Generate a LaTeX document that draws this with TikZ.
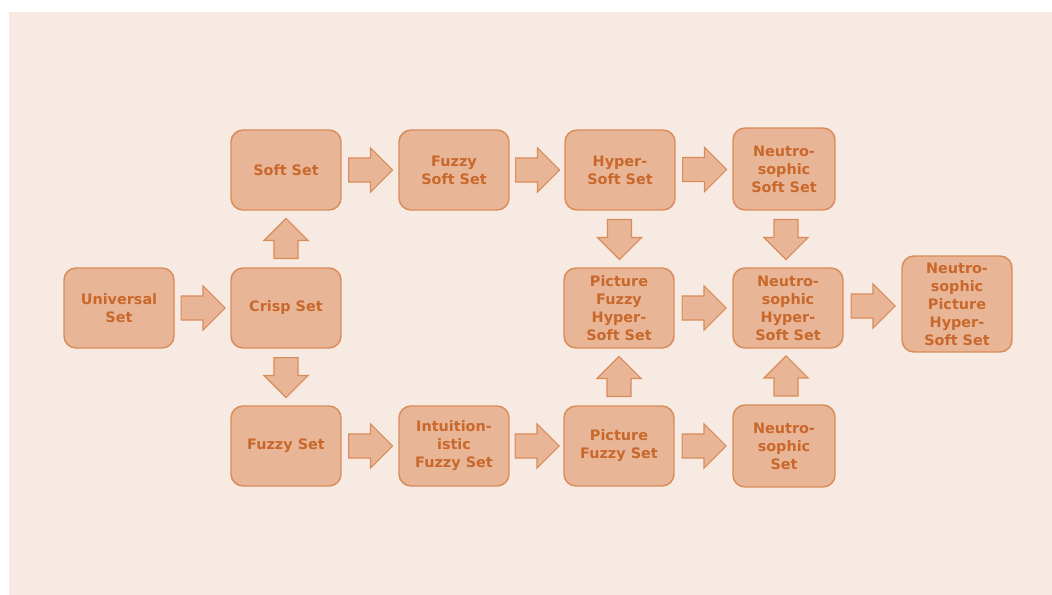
\documentclass[tikz,border=0pt]{standalone}
\usepackage{fontspec}
\setmainfont{DejaVu Sans}
\usetikzlibrary{shapes.arrows,calc}
\definecolor{bgpink}{HTML}{F7EAE2}
\definecolor{boxfill}{HTML}{E8B696}
\definecolor{boxline}{HTML}{D98C5A}
\definecolor{boxtext}{HTML}{C9682C}
\tikzset{
  setbox/.style={draw=boxline, fill=boxfill, line width=1.1pt, rounded corners=9pt,
    minimum width=82.5pt, minimum height=60pt, align=center, text=boxtext,
    font=\fontsize{10.8}{13.5}\selectfont\bfseries, inner sep=1pt},
  barrow/.style={single arrow, draw=boxline, fill=boxfill, line width=0.9pt,
    inner xsep=0pt, inner ysep=8.6pt, minimum height=33pt, minimum width=32pt,
    single arrow head extend=7.5pt, anchor=tail},
  varrow/.style={barrow, minimum height=30pt}
}
\begin{document}
\begin{tikzpicture}[x=0.75pt,y=-0.75pt]
\useasboundingbox (0,0) rectangle (1052,595);
\fill[white] (0,0) rectangle (1052,595);
\fill[bgpink] (9,12) rectangle (1052,595);

\node[setbox] (U) at (119,308) {Universal\\Set};
\node[setbox] (C) at (286,308) {Crisp Set};
\node[setbox] (S) at (286,170) {Soft Set};
\node[setbox] (F) at (286,446) {Fuzzy Set};
\node[setbox] (FS) at (454,170) {Fuzzy\\Soft Set};
\node[setbox] (IF) at (454,446) {Intuition-\\istic\\Fuzzy Set};
\node[setbox] (HS) at (620,170) {Hyper-\\Soft Set};
\node[setbox] (PFH) at (619,308) {Picture\\Fuzzy\\Hyper-\\Soft Set};
\node[setbox] (PF) at (619,446) {Picture\\Fuzzy Set};
\node[setbox, minimum width=76.5pt, minimum height=61.5pt] (NS) at (784,169) {Neutro-\\sophic\\Soft Set};
\node[setbox] (NH) at (788,308) {Neutro-\\sophic\\Hyper-\\Soft Set};
\node[setbox, minimum width=76.5pt, minimum height=61.5pt] (N) at (784,446) {Neutro-\\sophic\\Set};
\node[setbox, minimum height=72pt] (NP) at (957,304) {Neutro-\\sophic\\Picture\\Hyper-\\Soft Set};

% horizontal block arrows
\node[barrow] at ($(U.east)!.5!(C.west)+(-22,0)$) {};
\node[barrow] at ($(S.east)!.5!(FS.west)+(-22,0)$) {};
\node[barrow] at ($(FS.east)!.5!(HS.west)+(-22,0)$) {};
\node[barrow] at ($(HS.east)!.5!(NS.west)+(-22,0)$) {};
\node[barrow] at ($(F.east)!.5!(IF.west)+(-22,0)$) {};
\node[barrow] at ($(IF.east)!.5!(PF.west)+(-22,0)$) {};
\node[barrow] at ($(PF.east)!.5!(N.west)+(-22,0)$) {};
\node[barrow] at ($(PFH.east)!.5!(NH.west)+(-22,0)$) {};
\node[barrow] at ($(NH.east)!.5!(NP.west)+(-22,0)$) {};
% vertical block arrows
\node[varrow, rotate=90] at ($(C.north)!.5!(S.south)+(0,20)$) {};
\node[varrow, rotate=-90] at ($(C.south)!.5!(F.north)+(0,-20)$) {};
\node[varrow, rotate=-90] at ($(HS.south)!.5!(PFH.north)+(0,-20)$) {};
\node[varrow, rotate=90] at ($(PF.north)!.5!(PFH.south)+(0,20)$) {};
\node[varrow, rotate=-90] at ($(NS.south)!.5!(NH.north)+(0,-20)$) {};
\node[varrow, rotate=90] at ($(N.north)!.5!(NH.south)+(0,20)$) {};
\end{tikzpicture}
\end{document}
